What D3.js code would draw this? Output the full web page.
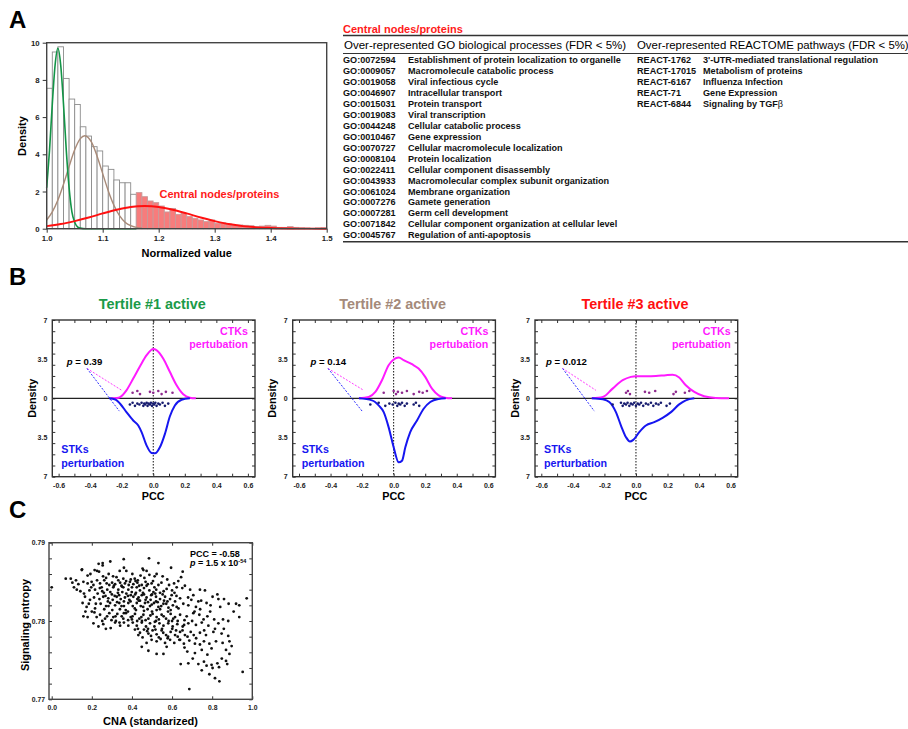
<!DOCTYPE html>
<html>
<head>
<meta charset="utf-8">
<script src="https://cdn.jsdelivr.net/npm/d3@7"></script>
<style>
  body { margin: 0; background: #fff; }
  svg text { font-family: "Liberation Sans", Arial, sans-serif; }
</style>
</head>
<body>
<svg id="fig" width="908" height="729"></svg>
<script>
// ---------------- data ----------------

// Panel A: histogram of normalized values (bin lower edge, density)
var binStart = [1.00, 1.01, 1.02, 1.03, 1.04, 1.05, 1.06, 1.07, 1.08, 1.09,
                1.10, 1.11, 1.12, 1.13, 1.14, 1.15, 1.16, 1.17, 1.18, 1.19,
                1.20, 1.21, 1.22, 1.23, 1.24, 1.25, 1.26, 1.27, 1.28, 1.29,
                1.30, 1.31, 1.32, 1.33, 1.34, 1.35, 1.36, 1.37, 1.38, 1.39,
                1.40, 1.41, 1.42, 1.43, 1.44, 1.45, 1.46, 1.47, 1.48, 1.49];
var binDensity = [7.55, 9.5, 9.78, 8.08, 6.97, 6.68, 5.48, 4.98, 4.41, 4.18,
                  3.37, 3.19, 2.62, 2.47, 2.47, 1.85, 1.94, 1.72, 1.49, 1.40,
                  1.22, 0.90, 1.09, 0.77, 0.82, 0.65, 0.56, 0.47, 0.38, 0.47,
                  0.29, 0.32, 0.25, 0.18, 0.20, 0.18, 0.16, 0.11, 0.14, 0.18,
                  0.14, 0.07, 0.07, 0.11, 0.07, 0.05, 0.04, 0.02, 0.04, 0.05];
var centralCut = 1.16;

// fitted mixture components as [value, density]
var compGreen = [[1.000, 2.2], [1.005, 4.2], [1.010, 6.7], [1.015, 8.8], [1.020, 9.7], [1.025, 8.8],
                 [1.030, 6.7], [1.035, 4.2], [1.040, 2.2], [1.045, 0.9], [1.050, 0.35], [1.055, 0.1],
                 [1.060, 0.03], [1.070, 0], [1.160, 0]];
var compBrown = [[1.000, 0.47], [1.010, 0.90], [1.020, 1.54], [1.030, 2.39], [1.040, 3.35], [1.050, 4.24],
                 [1.060, 4.84], [1.068, 5.0], [1.080, 4.65], [1.090, 3.9], [1.100, 2.96], [1.110, 2.03],
                 [1.120, 1.26], [1.130, 0.70], [1.140, 0.35], [1.150, 0.16], [1.160, 0.07], [1.170, 0.03]];
var compRed = [[1.000, 0.14], [1.025, 0.25], [1.050, 0.41], [1.075, 0.60], [1.100, 0.82], [1.125, 1.02],
               [1.150, 1.17], [1.175, 1.22], [1.200, 1.17], [1.225, 1.02], [1.250, 0.82], [1.275, 0.60],
               [1.300, 0.41], [1.325, 0.25], [1.350, 0.14], [1.375, 0.073], [1.400, 0.035], [1.450, 0.006], [1.500, 0]];

var histXTicks = [1.0, 1.1, 1.2, 1.3, 1.4, 1.5];
var histYTicks = [0, 2, 4, 6, 8, 10];

// Panel A: enrichment table
var goIds = ["GO:0072594", "GO:0009057", "GO:0019058", "GO:0046907", "GO:0015031", "GO:0019083",
             "GO:0044248", "GO:0010467", "GO:0070727", "GO:0008104", "GO:0022411", "GO:0043933",
             "GO:0061024", "GO:0007276", "GO:0007281", "GO:0071842", "GO:0045767"];
var goTerms = ["Establishment of protein localization to organelle", "Macromolecule catabolic process",
               "Viral infectious cycle", "Intracellular transport", "Protein transport", "Viral transcription",
               "Cellular catabolic process", "Gene expression", "Cellular macromolecule localization",
               "Protein localization", "Cellular component disassembly",
               "Macromolecular complex subunit organization", "Membrane organization", "Gamete generation",
               "Germ cell development", "Cellular component organization at cellular level",
               "Regulation of anti-apoptosis"];
var reactIds = ["REACT-1762", "REACT-17015", "REACT-6167", "REACT-71", "REACT-6844"];
var reactTerms = ["3'-UTR-mediated translational regulation", "Metabolism of proteins",
                  "Influenza Infection", "Gene Expression", "Signaling by TGF"];

// Panel B: density curves [PCC, density] (STK densities plotted downward)
var tertileNames = ["Tertile #1 active", "Tertile #2 active", "Tertile #3 active"];
var tertilePvalues = ["0.39", "0.14", "0.012"];
var ctkCurves = [
  [[-0.27, 0], [-0.23, 0.03], [-0.21, 0.12], [-0.17, 0.72], [-0.127, 1.77], [-0.084, 2.87], [-0.042, 3.86],
   [0, 4.4], [0.02, 4.31], [0.063, 3.56], [0.105, 2.37], [0.148, 1.17], [0.19, 0.36], [0.232, 0.06], [0.27, 0]],
  [[-0.22, 0], [-0.158, 0.12], [-0.116, 0.57], [-0.074, 1.62], [-0.032, 2.96], [0, 3.47], [0.032, 3.65],
   [0.063, 3.41], [0.116, 3.05], [0.158, 2.66], [0.2, 1.92], [0.243, 0.87], [0.285, 0.27], [0.327, 0.06], [0.37, 0]],
  [[-0.28, 0], [-0.21, 0.12], [-0.148, 0.87], [-0.084, 1.62], [-0.032, 1.92], [0, 1.98], [0.063, 1.98],
   [0.127, 2.0], [0.19, 2.07], [0.232, 2.1], [0.274, 1.86], [0.316, 1.17], [0.37, 0.57], [0.432, 0.18],
   [0.506, 0.03], [0.59, 0]]
];
var stkCurves = [
  [[-0.28, 0], [-0.24, 0.1], [-0.21, 0.48], [-0.17, 1.23], [-0.127, 1.98], [-0.095, 2.43], [-0.074, 3.02],
   [-0.042, 4.22], [-0.011, 4.88], [0.011, 4.91], [0.042, 4.37], [0.074, 3.17], [0.105, 1.62], [0.137, 0.63],
   [0.18, 0.12], [0.232, 0]],
  [[-0.22, 0], [-0.137, 0.18], [-0.095, 0.63], [-0.063, 1.23], [-0.032, 2.57], [0, 4.37], [0.032, 5.72],
   [0.053, 5.57], [0.074, 4.37], [0.105, 3.02], [0.148, 1.98], [0.19, 0.93], [0.232, 0.33], [0.285, 0.06], [0.33, 0]],
  [[-0.28, 0], [-0.21, 0.09], [-0.169, 0.33], [-0.127, 1.23], [-0.095, 2.43], [-0.063, 3.47], [-0.038, 3.86],
   [-0.017, 3.71], [0.021, 3.02], [0.063, 2.43], [0.116, 2.13], [0.169, 1.74], [0.222, 1.23], [0.274, 0.54],
   [0.316, 0.18], [0.37, 0]]
];
// individual PCC values (rug points)
var ctkPoints = [
  [-0.131, -0.101, -0.084, -0.021, 0, 0.032, 0.053, 0.08, 0.122],
  [-0.063, 0, 0.015, 0.027, 0.053, 0.084, 0.127, 0.162, 0.184, 0.211],
  [-0.063, -0.051, -0.038, 0.057, 0.084, 0.122, 0.238, 0.253, 0.31, 0.338]
];
var stkPoints = [
  [-0.148, -0.131, -0.116, -0.101, -0.088, -0.074, -0.063, -0.057, -0.051, -0.042, -0.036, -0.03, -0.021,
   -0.015, -0.008, 0, 0.006, 0.013, 0.021, 0.032, 0.042, 0.059, 0.074, 0.095],
  [-0.148, -0.095, -0.053, -0.027, -0.006, 0.011, 0.023, 0.032, 0.042, 0.053, 0.07, 0.084, 0.127, 0.141, 0.162],
  [-0.148, -0.095, -0.084, -0.074, -0.063, -0.053, -0.042, -0.032, -0.021, -0.011, 0, 0.011, 0.021, 0.032,
   0.046, 0.063, 0.078, 0.095, 0.11, 0.127, 0.143, 0.158, 0.194, 0.215]
];
var pccTicks = [-0.6, -0.4, -0.2, 0, 0.2, 0.4, 0.6];
var densityTicks = [-7, -3.5, 0, 3.5, 7];

// Panel C: CNA (standardized) vs signaling entropy
var scatterPoints = [
  [0.485,0.7880],[0.359,0.7879],[0.532,0.7874],[0.292,0.7876],[0.254,0.7874],[0.234,0.7873],[0.254,0.7871],
  [0.360,0.7868],[0.595,0.7868],[0.453,0.7867],[0.457,0.7865],[0.372,0.7864],[0.151,0.7866],[0.150,0.7865],
  [0.214,0.7865],[0.226,0.7864],[0.236,0.7863],[0.653,0.7863],[0.284,0.7860],[0.193,0.7860],[0.179,0.7858],
  [0.256,0.7857],[0.306,0.7857],[0.070,0.7854],[0.095,0.7854],[0.121,0.7852],[0.645,0.7856],[0.553,0.7857],
  [0.443,0.7858],[0.523,0.7860],[0.487,0.7859],[0.332,0.7852],[0.357,0.7854],[0.394,0.7853],[0.414,0.7854],
  [0.429,0.7852],[0.000,0.7843],[0.103,0.7849],[0.133,0.7847],[0.111,0.7843],[0.158,0.7850],[0.179,0.7848],
  [0.199,0.7850],[0.208,0.7846],[0.241,0.7848],[0.249,0.7843],[0.274,0.7848],[0.301,0.7849],[0.316,0.7847],
  [0.341,0.7849],[0.365,0.7848],[0.390,0.7850],[0.407,0.7847],[0.427,0.7849],[0.449,0.7846],[0.468,0.7850],
  [0.473,0.7845],[0.498,0.7848],[0.512,0.7843],[0.532,0.7846],[0.573,0.7841],[0.600,0.7839],[0.623,0.7843],
  [0.651,0.7842],[0.664,0.7845],[0.631,0.7851],[0.739,0.7840],[0.764,0.7839],[0.826,0.7834],[0.216,0.7840],
  [0.277,0.7840],[0.307,0.7843],[0.332,0.7840],[0.357,0.7843],[0.382,0.7840],[0.399,0.7837],[0.424,0.7843],
  [0.440,0.7839],[0.460,0.7842],[0.487,0.7839],[0.507,0.7837],[0.540,0.7836],[0.161,0.7835],[0.188,0.7839],
  [0.125,0.7840],[0.802,0.7831],[0.831,0.7828],[0.859,0.7828],[0.882,0.7822],[0.935,0.7820],[0.972,0.7829],
  [0.706,0.7833],[0.696,0.7827],[0.731,0.7825],[0.772,0.7823],[0.681,0.7820],[0.719,0.7818],[0.166,0.7831],
  [0.191,0.7827],[0.211,0.7830],[0.238,0.7828],[0.257,0.7831],[0.282,0.7829],[0.304,0.7827],[0.324,0.7831],
  [0.344,0.7828],[0.365,0.7830],[0.387,0.7827],[0.407,0.7831],[0.427,0.7828],[0.449,0.7833],[0.473,0.7830],
  [0.493,0.7827],[0.520,0.7831],[0.540,0.7828],[0.565,0.7831],[0.590,0.7828],[0.615,0.7825],[0.640,0.7829],
  [0.244,0.7822],[0.271,0.7819],[0.291,0.7823],[0.316,0.7820],[0.337,0.7823],[0.360,0.7819],[0.382,0.7823],
  [0.404,0.7819],[0.424,0.7823],[0.444,0.7819],[0.465,0.7823],[0.490,0.7819],[0.510,0.7823],[0.532,0.7818],
  [0.557,0.7822],[0.582,0.7817],[0.604,0.7820],[0.632,0.7816],[0.154,0.7823],[0.174,0.7818],[0.216,0.7816],
  [0.158,0.7806],[0.179,0.7805],[0.213,0.7811],[0.224,0.7805],[0.241,0.7808],[0.266,0.7803],[0.287,0.7810],
  [0.307,0.7805],[0.327,0.7809],[0.349,0.7806],[0.370,0.7810],[0.394,0.7805],[0.415,0.7809],[0.437,0.7803],
  [0.457,0.7808],[0.482,0.7803],[0.503,0.7809],[0.523,0.7805],[0.548,0.7808],[0.570,0.7803],[0.593,0.7809],
  [0.615,0.7805],[0.640,0.7808],[0.673,0.7806],[0.706,0.7810],[0.736,0.7808],[0.776,0.7806],[0.810,0.7802],
  [0.854,0.7802],[0.907,0.7812],[0.935,0.7805],[0.208,0.7797],[0.233,0.7793],[0.257,0.7796],[0.294,0.7791],
  [0.316,0.7798],[0.341,0.7794],[0.360,0.7798],[0.382,0.7794],[0.404,0.7798],[0.424,0.7794],[0.449,0.7798],
  [0.470,0.7793],[0.490,0.7797],[0.512,0.7793],[0.537,0.7797],[0.557,0.7794],[0.581,0.7797],[0.603,0.7793],
  [0.626,0.7796],[0.653,0.7793],[0.681,0.7797],[0.719,0.7795],[0.748,0.7798],[0.781,0.7794],[0.831,0.7797],
  [0.415,0.7789],[0.440,0.7785],[0.460,0.7789],[0.482,0.7784],[0.503,0.7788],[0.523,0.7783],[0.548,0.7788],
  [0.570,0.7782],[0.593,0.7786],[0.615,0.7782],[0.640,0.7786],[0.664,0.7782],[0.693,0.7786],[0.739,0.7785],
  [0.769,0.7782],[0.806,0.7786],[0.847,0.7784],[0.880,0.7781],[0.498,0.7776],[0.523,0.7774],[0.543,0.7777],
  [0.565,0.7772],[0.590,0.7776],[0.611,0.7772],[0.636,0.7776],[0.659,0.7771],[0.686,0.7775],[0.714,0.7771],
  [0.759,0.7774],[0.786,0.7771],[0.819,0.7774],[0.852,0.7772],[0.886,0.7774],[0.473,0.7772],[0.449,0.7767],
  [0.573,0.7767],[0.482,0.7762],[0.523,0.7758],[0.557,0.7758],[0.676,0.7761],[0.714,0.7759],[0.748,0.7763],
  [0.797,0.7765],[0.869,0.7763],[0.886,0.7758],[0.681,0.7746],[0.643,0.7745],[0.731,0.7745],[0.759,0.7748],
  [0.772,0.7743],[0.797,0.7744],[0.826,0.7746],[0.802,0.7740],[0.834,0.7741],[0.869,0.7749],[0.875,0.7745],
  [0.748,0.7737],[0.786,0.7732],[0.814,0.7727],[0.836,0.7723],[0.952,0.7735],[0.686,0.7713],[0.919,0.7822],
  [0.31,0.7845],[0.33,0.7836],[0.35,0.7844],[0.38,0.7832],[0.40,0.7843],[0.42,0.7836],[0.44,0.7826],
  [0.46,0.7834],[0.48,0.7824],[0.50,0.7834],[0.52,0.7825],[0.54,0.7815],[0.56,0.7826],[0.58,0.7812],
  [0.36,0.7825],[0.34,0.7815],[0.38,0.7812],[0.42,0.7814],[0.46,0.7813],[0.50,0.7812],[0.30,0.7834],
  [0.28,0.7825],[0.26,0.7836],[0.24,0.7842],[0.22,0.7822],[0.20,0.7812],[0.45,0.7800],[0.48,0.7790],
  [0.52,0.7800],[0.55,0.7790],[0.60,0.7800],[0.62,0.7788],[0.66,0.7795],[0.40,0.7802],[0.36,0.7810],
  [0.32,0.7800],[0.27,0.7790],[0.43,0.7790],[0.58,0.7780],[0.64,0.7776],[0.70,0.7800],[0.74,0.7815],
  [0.68,0.7830],[0.72,0.7778],[0.76,0.7788],[0.79,0.7812],[0.84,0.7818],[0.88,0.7800],
  [0.262,0.7852],[0.287,0.7846],[0.323,0.7856],[0.348,0.7845],[0.371,0.7851],[0.384,0.7846],[0.418,0.7851],
  [0.436,0.7845],[0.462,0.7855],[0.479,0.7847],[0.505,0.7851],[0.521,0.7840],[0.547,0.7849],[0.558,0.7838],
  [0.585,0.7846],[0.612,0.7836],[0.229,0.7835],[0.252,0.7838],[0.268,0.7832],[0.292,0.7837],[0.314,0.7832],
  [0.336,0.7833],[0.352,0.7837],[0.372,0.7835],[0.394,0.7833],[0.416,0.7834],[0.433,0.7830],[0.455,0.7836],
  [0.468,0.7827],[0.496,0.7833],[0.516,0.7835],[0.528,0.7824],[0.553,0.7834],[0.577,0.7825],[0.598,0.7833],
  [0.622,0.7832],[0.262,0.7815],[0.283,0.7819],[0.302,0.7814],[0.326,0.7824],[0.348,0.7819],[0.369,0.7814],
  [0.393,0.7825],[0.414,0.7816],[0.434,0.7826],[0.456,0.7818],[0.478,0.7815],[0.499,0.7821],[0.523,0.7814],
  [0.546,0.7819],[0.571,0.7822],[0.593,0.7814],[0.623,0.7818],[0.656,0.7822],[0.252,0.7800],[0.276,0.7806],
  [0.298,0.7801],[0.318,0.7806],[0.338,0.7798],[0.357,0.7803],[0.381,0.7801],[0.403,0.7806],[0.426,0.7800],
  [0.447,0.7805],[0.468,0.7801],[0.492,0.7807],[0.514,0.7799],[0.534,0.7802],[0.558,0.7806],[0.583,0.7800],
  [0.606,0.7803],[0.628,0.7800],[0.662,0.7801],[0.432,0.7782],[0.453,0.7779],[0.476,0.7787],[0.495,0.7781],
  [0.517,0.7789],[0.534,0.7779],[0.556,0.7785],[0.578,0.7778],[0.601,0.7790],[0.628,0.7780],[0.652,0.7788],
  [0.677,0.7780],[0.708,0.7782],[0.185,0.7822],[0.197,0.7843],[0.143,0.7838],[0.168,0.7812],[0.226,0.7852],
  [0.271,0.7855],[0.339,0.7864],[0.402,0.7860],[0.473,0.7864],[0.513,0.7857],[0.576,0.7853],[0.610,0.7848],
  [0.690,0.7840],[0.712,0.7812],[0.745,0.7826],[0.757,0.7802],[0.792,0.7820],[0.814,0.7790],[0.858,0.7790],
  [0.897,0.7768],[0.662,0.7766],[0.703,0.7752],[0.739,0.7770],[0.776,0.7757],[0.848,0.7752]
];
var cnaTicks = [0, 0.2, 0.4, 0.6, 0.8, 1.0];
var entropyTicks = [0.77, 0.78, 0.79];

// ---------------- drawing ----------------
var svg = d3.select('#fig');
var fmt1 = function(d) { return d.toFixed(1); };

function styleAxis(g, size) {
    g.select('.domain').remove();
    g.selectAll('line').attr('stroke', '#333').attr('stroke-width', 1);
    g.selectAll('text')
     .style('font-family', '"Liberation Sans", Arial, sans-serif')
     .style('font-size', size + 'px')
     .style('font-weight', 'bold')
     .attr('fill', '#222');
}

function panelLabel(txt, x, y) {
    svg.append('text').attr('x', x).attr('y', y).text(txt)
       .style('font-size', '24px').style('font-weight', 'bold');
}

function axisTitle(txt, x, y, rotate, size) {
    svg.append('text')
       .attr('transform', 'translate(' + x + ',' + y + ')' + (rotate ? ' rotate(-90)' : ''))
       .attr('text-anchor', 'middle').attr('dy', '0.35em')
       .style('font-size', (size || 11) + 'px').style('font-weight', 'bold')
       .text(txt);
}

//Panel A - histogram
panelLabel('A', 9, 28);
var hx = d3.scaleLinear().domain([1.0, 1.5]).range([46.7, 326.7]);
var hy = d3.scaleLinear().domain([0, 10]).range([228.7, 42.7]);
var binW = binStart[1] - binStart[0];
var gA = svg.append('g');

gA.selectAll('.bin')
  .data(binDensity)
  .enter()
  .append('rect')
  .attr('class', 'bin')
  .attr('x', function(d, i) {return hx(binStart[i]);})
  .attr('width', function(d, i) {return hx(binStart[i] + binW) - hx(binStart[i]);})
  .attr('y', function(d) {return hy(d);})
  .attr('height', function(d) {return hy(0) - hy(d);})
  .attr('fill', function(d, i) {return binStart[i] >= centralCut - 1e-9 ? '#f77c7c' : '#fff';})
  .attr('stroke', function(d, i) {return binStart[i] >= centralCut - 1e-9 ? '#c79a9a' : '#8c8c8c';})
  .attr('stroke-width', 0.9);

var hLine = d3.line()
              .x(function(d) {return hx(d[0]);})
              .y(function(d) {return hy(d[1]);})
              .curve(d3.curveMonotoneX);

[[compBrown, '#a88a78', 1.4], [compGreen, '#139447', 1.6], [compRed, '#ff1010', 1.9]].forEach(function(c) {
    gA.append('path').datum(c[0]).attr('d', hLine)
      .attr('fill', 'none').attr('stroke', c[1]).attr('stroke-width', c[2]);
});

gA.append('rect').attr('x', 46.7).attr('y', 42.7).attr('width', 280).attr('height', 186)
  .attr('fill', 'none').attr('stroke', '#444').attr('stroke-width', 1.4);

gA.append('g').attr('transform', 'translate(0,' + hy(0) + ')')
  .call(d3.axisBottom(hx).tickValues(histXTicks).tickSize(4).tickPadding(3).tickFormat(fmt1))
  .call(styleAxis, 7.8);
gA.append('g').attr('transform', 'translate(' + hx(1.0) + ',0)')
  .call(d3.axisLeft(hy).tickValues(histYTicks).tickSize(4).tickPadding(3))
  .call(styleAxis, 7.8);

axisTitle('Density', 21.7, 136, true, 11);
axisTitle('Normalized value', 186.7, 253, false, 11);

gA.append('text').attr('x', 159.5).attr('y', 198).text('Central nodes/proteins')
  .attr('fill', '#ff1a1a').style('font-size', '11px').style('font-weight', 'bold');

//Panel A - table
var tL = 343, tR = 908;
var rowY = d3.scaleLinear().domain([0, 1]).range([63, 73.96]);
var gT = svg.append('g');
gT.append('text').attr('x', tL).attr('y', 32.5).text('Central nodes/proteins')
  .attr('fill', '#ff1a1a').style('font-size', '11px').style('font-weight', 'bold');
gT.append('line').attr('x1', tL).attr('x2', tR).attr('y1', 35.5).attr('y2', 35.5)
  .attr('stroke', '#333').attr('stroke-width', 1.6);
gT.append('text').attr('x', tL + 1).attr('y', 48.5)
  .text('Over-represented GO biological processes (FDR < 5%)').style('font-size', '11.5px');
gT.append('text').attr('x', 637).attr('y', 48.5)
  .text('Over-represented REACTOME pathways (FDR < 5%)').style('font-size', '11.4px');
gT.append('line').attr('x1', tL).attr('x2', tR).attr('y1', 53.5).attr('y2', 53.5)
  .attr('stroke', '#333').attr('stroke-width', 1);
gT.append('line').attr('x1', tL).attr('x2', tR).attr('y1', 241.7).attr('y2', 241.7)
  .attr('stroke', '#333').attr('stroke-width', 1.6);

function tableColumn(vals, x) {
    gT.selectAll(null)
      .data(vals)
      .enter()
      .append('text')
      .attr('x', x)
      .attr('y', function(d, i) {return rowY(i);})
      .text(function(d) {return d;})
      .style('font-size', '9.1px')
      .style('font-weight', 'bold')
      .attr('fill', '#111');
}
tableColumn(goIds, tL);
tableColumn(goTerms, 408);
tableColumn(reactIds, 637);
tableColumn(reactTerms, 703);
// beta glyph in TGF-beta (plain weight, like a symbol font)
gT.selectAll('text').filter(function(d) {return d === 'Signaling by TGF';})
  .append('tspan').text('\u03b2').style('font-weight', 'normal');

//Panel B - tertile densities
panelLabel('B', 9, 285);
var bLeft = [52.3, 292.7, 535];
var bW = 202.7, bTop = 320, bBot = 476.7;
var titleCol = ['#1a9a48', '#a48a7a', '#ff1010'];
var pAnnot = [  // label x, dashed line start, pink end, blue end (data units)
    {lx: -0.548, s: [-0.42, 2.67], c: [-0.2, 0.72], b: [-0.215, -1.14]},
    {lx: -0.527, s: [-0.416, 2.67], c: [-0.19, 0.72], b: [-0.2, -1.14]},
    {lx: -0.57, s: [-0.465, 2.67], c: [-0.254, 0.72], b: [-0.264, -1.14]}
];
var rugJitter = [0, 0.16, -0.12, 0.08];

tertileNames.forEach(function(name, k) {
    var x = d3.scaleLinear().domain([-0.64, 0.645]).range([bLeft[k], bLeft[k] + bW]);
    var y = d3.scaleLinear().domain([-7, 7]).range([bBot, bTop]);
    var g = svg.append('g');

    // minor + labelled ticks, all pointing inward
    g.append('g').attr('transform', 'translate(0,' + bBot + ')')
     .call(d3.axisBottom(x).ticks(13).tickSize(-3).tickFormat(''))
     .call(styleAxis, 7);
    g.append('g').attr('transform', 'translate(0,' + bBot + ')')
     .call(d3.axisBottom(x).tickValues(pccTicks).tickSize(0).tickPadding(6).tickFormat(fmt1))
     .call(styleAxis, 7);
    g.append('g').attr('transform', 'translate(0,' + bTop + ')')
     .call(d3.axisTop(x).ticks(13).tickSize(-3).tickFormat(''))
     .call(styleAxis, 7);
    g.append('g').attr('transform', 'translate(' + bLeft[k] + ',0)')
     .call(d3.axisLeft(y).ticks(14).tickSize(-3).tickFormat(''))
     .call(styleAxis, 7);
    g.append('g').attr('transform', 'translate(' + bLeft[k] + ',0)')
     .call(d3.axisLeft(y).tickValues(densityTicks).tickSize(0).tickPadding(5)
             .tickFormat(function(d) {return d === 0 ? '0' : String(Math.abs(d));}))
     .call(styleAxis, 7);
    g.append('g').attr('transform', 'translate(' + (bLeft[k] + bW) + ',0)')
     .call(d3.axisRight(y).ticks(14).tickSize(-3).tickFormat(''))
     .call(styleAxis, 7);

    // zero line and PCC = 0 reference
    g.append('line').attr('x1', bLeft[k]).attr('x2', bLeft[k] + bW).attr('y1', y(0)).attr('y2', y(0))
     .attr('stroke', '#222').attr('stroke-width', 1.1);
    g.append('line').attr('x1', x(0)).attr('x2', x(0)).attr('y1', bTop).attr('y2', bBot)
     .attr('stroke', '#111').attr('stroke-width', 1).attr('stroke-dasharray', '1.5,1.5');

    var up = d3.line().x(function(d) {return x(d[0]);}).y(function(d) {return y(d[1]);}).curve(d3.curveMonotoneX);
    var down = d3.line().x(function(d) {return x(d[0]);}).y(function(d) {return y(-d[1]);}).curve(d3.curveMonotoneX);
    g.append('path').datum(ctkCurves[k]).attr('d', up)
     .attr('fill', 'none').attr('stroke', '#ff1aff').attr('stroke-width', 2);
    g.append('path').datum(stkCurves[k]).attr('d', down)
     .attr('fill', 'none').attr('stroke', '#1616f0').attr('stroke-width', 2);

    g.selectAll('.ctk').data(ctkPoints[k]).enter().append('circle')
     .attr('cx', function(d) {return x(d);})
     .attr('cy', function(d, i) {return y(0.5 + rugJitter[i % 4]);})
     .attr('r', 1.3).attr('fill', '#8e2a8e');
    g.selectAll('.stk').data(stkPoints[k]).enter().append('circle')
     .attr('cx', function(d) {return x(d);})
     .attr('cy', function(d, i) {return y(-0.55 + rugJitter[i % 4]);})
     .attr('r', 1.3).attr('fill', '#151a6e');

    // frame
    g.append('rect').attr('x', bLeft[k]).attr('y', bTop).attr('width', bW).attr('height', bBot - bTop)
     .attr('fill', 'none').attr('stroke', '#333').attr('stroke-width', 1.4);

    // annotations
    var a = pAnnot[k];
    g.append('line').attr('x1', x(a.s[0])).attr('y1', y(a.s[1])).attr('x2', x(a.c[0])).attr('y2', y(a.c[1]))
     .attr('stroke', '#ff3cff').attr('stroke-width', 1).attr('stroke-dasharray', '2,1.5');
    g.append('line').attr('x1', x(a.s[0])).attr('y1', y(a.s[1])).attr('x2', x(a.b[0])).attr('y2', y(a.b[1]))
     .attr('stroke', '#2a2aff').attr('stroke-width', 1).attr('stroke-dasharray', '2,1.5');
    var pt = g.append('text').attr('x', x(a.lx)).attr('y', 364.5)
              .style('font-size', '9.6px').style('font-weight', 'bold');
    pt.append('tspan').text('p').style('font-style', 'italic');
    pt.append('tspan').text(' = ' + tertilePvalues[k]);

    g.append('text').attr('x', x(0) - 1).attr('y', 309).attr('text-anchor', 'middle')
     .text(name).attr('fill', titleCol[k]).style('font-size', '14.4px').style('font-weight', 'bold');

    g.append('text').attr('x', bLeft[k] + bW - 7).attr('y', 334.5).attr('text-anchor', 'end')
     .text('CTKs').attr('fill', '#ff1aff').style('font-size', '10.7px').style('font-weight', 'bold');
    g.append('text').attr('x', bLeft[k] + bW - 7).attr('y', 348).attr('text-anchor', 'end')
     .text('pertubation').attr('fill', '#ff1aff').style('font-size', '10.7px').style('font-weight', 'bold');
    g.append('text').attr('x', bLeft[k] + 9).attr('y', 453).text('STKs')
     .attr('fill', '#1616f0').style('font-size', '10.7px').style('font-weight', 'bold');
    g.append('text').attr('x', bLeft[k] + 9).attr('y', 466.5).text('perturbation')
     .attr('fill', '#1616f0').style('font-size', '10.7px').style('font-weight', 'bold');

    axisTitle('Density', bLeft[k] - 20, (bTop + bBot) / 2, true, 10.8);
    axisTitle('PCC', x(0), 496, false, 10.8);
});

//Panel C - scatter
panelLabel('C', 9, 518);
var cx = d3.scaleLinear().domain([-0.0135, 1.0]).range([49, 252.3]);
var cy = d3.scaleLinear().domain([0.77, 0.79]).range([699.3, 542.7]);
var gC = svg.append('g');

gC.append('g').attr('transform', 'translate(0,' + cy(0.77) + ')')
  .call(d3.axisBottom(cx).tickValues(cnaTicks).tickSize(-3).tickPadding(6).tickFormat(fmt1))
  .call(styleAxis, 6.8);
gC.append('g').attr('transform', 'translate(0,' + cy(0.79) + ')')
  .call(d3.axisTop(cx).tickValues(cnaTicks).tickSize(-3).tickFormat(''))
  .call(styleAxis, 6.8);
gC.append('g').attr('transform', 'translate(' + cx.range()[0] + ',0)')
  .call(d3.axisLeft(cy).ticks(8).tickSize(-3).tickFormat(''))
  .call(styleAxis, 6.8);
gC.append('g').attr('transform', 'translate(' + cx.range()[0] + ',0)')
  .call(d3.axisLeft(cy).tickValues(entropyTicks).tickSize(0).tickPadding(4)
          .tickFormat(function(d) {return d.toFixed(2);}))
  .call(styleAxis, 6.8);
gC.append('g').attr('transform', 'translate(' + cx.range()[1] + ',0)')
  .call(d3.axisRight(cy).ticks(8).tickSize(-3).tickFormat(''))
  .call(styleAxis, 6.8);

gC.selectAll('.dot')
  .data(scatterPoints)
  .enter()
  .append('circle')
  .attr('cx', function(d) {return cx(d[0]);})
  .attr('cy', function(d) {return cy(d[1]);})
  .attr('r', 1.4)
  .attr('fill', '#111');

gC.append('rect').attr('x', 49).attr('y', 542.7).attr('width', 203.3).attr('height', 156.6)
  .attr('fill', 'none').attr('stroke', '#444').attr('stroke-width', 1.4);

gC.append('text').attr('x', 190).attr('y', 556.5).text('PCC = -0.58')
  .style('font-size', '9px').style('font-weight', 'bold');
var pc = gC.append('text').attr('x', 190).attr('y', 565.5)
           .style('font-size', '9px').style('font-weight', 'bold');
pc.append('tspan').text('p').style('font-style', 'italic');
pc.append('tspan').text(' = 1.5 x 10');
pc.append('tspan').text('-54').attr('dy', -3).style('font-size', '5.5px');

axisTitle('Signaling entropy', 25, 625, true, 10.9);
axisTitle('CNA (standarized)', 150.5, 721, false, 11);
</script>
</body>
</html>
